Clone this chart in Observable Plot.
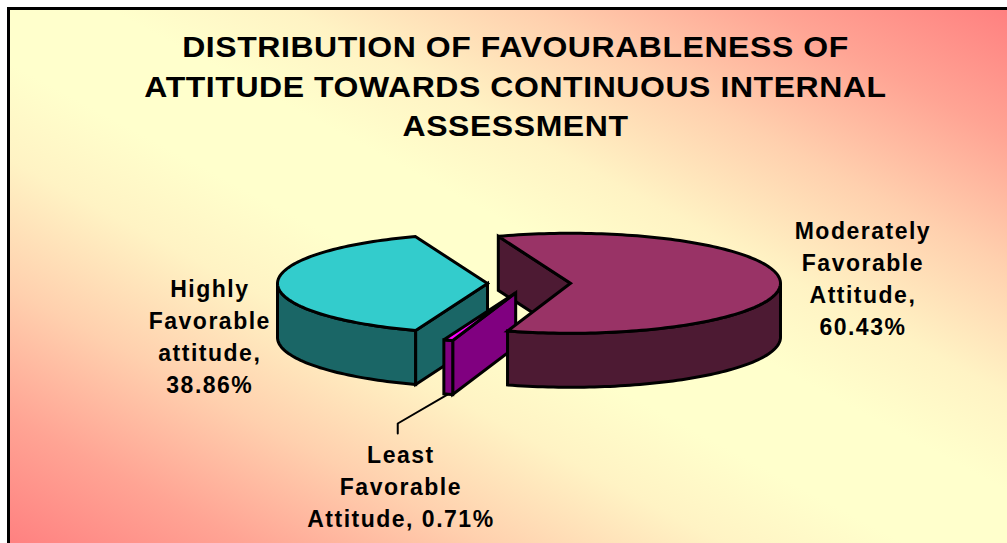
<!DOCTYPE html>
<html>
<head>
<meta charset="utf-8">
<script src="https://cdn.jsdelivr.net/npm/d3@7"></script>
<script src="https://cdn.jsdelivr.net/npm/@observablehq/plot@0.6"></script>
<style>
html,body{margin:0;padding:0;background:#fff;}
#page{position:relative;width:1007px;height:543px;overflow:hidden;font-family:"Liberation Sans",Arial,sans-serif;}
#panel{position:absolute;left:7px;top:7px;right:-3px;bottom:-3px;border-left:3px solid #000;border-top:3px solid #000;
background:linear-gradient(to top right,#ff8080 0%,#ffa494 12%,#ffd0ae 24%,#fff3c4 36%,#ffffcc 45%,#ffffcc 55%,#fff3c4 64%,#ffd0ae 76%,#ffa494 88%,#ff8080 100%);}
#title{position:absolute;left:0;top:27px;width:1031px;text-align:center;font-weight:700;font-size:30px;line-height:39.5px;color:#000;letter-spacing:.55px;transform:scaleX(1.065);transform-origin:center;}
#chart{position:absolute;left:0;top:150px;}
</style>
</head>
<body>
<div id="page">
<div id="panel"></div>
<div id="title">DISTRIBUTION OF FAVOURABLENESS OF<br>ATTITUDE TOWARDS CONTINUOUS INTERNAL<br>ASSESSMENT</div>
<div id="chart"></div>
</div>
<script>
const categories = ["Highly Favorable attitude", "Moderately Favorable Attitude", "Least Favorable Attitude"];
const percents = [38.86, 60.43, 0.71];
const labelTexts = ["Highly\nFavorable\nattitude,\n38.86%", "Moderately\nFavorable\nAttitude,\n60.43%", "Least\nFavorable\nAttitude, 0.71%"];
const labelX = [-1.52, 1.59, -0.61];
const labelY = [1.02, -0.14, 4.02];
const topColors = ["#33cccc", "#993366", "#ff00ff"];
const sideColors = ["#1a6666", "#4d1a33", "#800080"];
const firstAngle = 200;   // degrees clockwise from the back of the pie
const explode = 0.1976;   // in pie radii
const depth = 1.08;       // in vertical pie radii

const pie = d3.pie().value(d => d).sort(null)
  .startAngle(firstAngle * Math.PI / 180)
  .endAngle((firstAngle + 360) * Math.PI / 180)(percents);

const slices = pie.map((s, i) => {
  const mid = (s.startAngle + s.endAngle) / 2;
  return {i, a0: s.startAngle, a1: s.endAngle,
    cx: explode * Math.sin(mid), cy: -explode * Math.cos(mid)};
});
const rim = (s, a, d = 0) => ({x: s.cx + Math.sin(a), y: s.cy - Math.cos(a) + d});
const apex = (s, d = 0) => ({x: s.cx, y: s.cy + d});
const arc = (s, a0, a1, d = 0) => {
  const n = Math.max(2, Math.ceil(Math.abs(a1 - a0) * 40));
  return d3.range(n + 1).map(k => rim(s, a0 + (a1 - a0) * k / n, d));
};
const topFace = s => [apex(s), ...arc(s, s.a0, s.a1)];
const wall = (s, a0, a1) => [...arc(s, a0, a1), ...arc(s, a1, a0, depth)];
const radial = (s, a) => [apex(s), rim(s, a), rim(s, a, depth), apex(s, depth)];
const tau = 2 * Math.PI;
const [cyan, maroon, sliver] = slices;

// painter's order, back to front: only the walls facing the viewer
const faces = [
  [radial(maroon, maroon.a0), sideColors[1]],
  [wall(cyan, cyan.a0, 1.5 * Math.PI), sideColors[0]],
  [radial(cyan, cyan.a0), sideColors[0]],
  [topFace(cyan), topColors[0]],
  [radial(sliver, sliver.a0), sideColors[2]],
  [wall(sliver, sliver.a0, sliver.a1), sideColors[2]],
  [topFace(sliver), topColors[2]],
  [wall(maroon, tau + Math.PI / 2, maroon.a1), sideColors[1]],
  [topFace(maroon), topColors[1]]
];

const leaderStart = rim(sliver, (sliver.a0 + sliver.a1) / 2, depth);
const leader = [leaderStart, {x: -0.625, y: 2.8}, {x: -0.625, y: 3.0}];

const labels = labelTexts.map((text, i) => ({text, x: labelX[i], y: labelY[i]}));

const chart = Plot.plot({
  width: 1007, height: 393,
  marginTop: 0, marginRight: 0, marginBottom: 0, marginLeft: 0,
  x: {domain: [-1, 1], range: [318.5, 738.5], axis: null},
  y: {domain: [-1, 1], range: [83, 183], axis: null},
  style: {background: "transparent", fontFamily: "'Liberation Sans',Arial,sans-serif", overflow: "visible", letterSpacing: "1.5px"},
  marks: [
    ...faces.map(([points, fill]) => Plot.line(points, {
      x: "x", y: "y", fill, stroke: "#000", strokeWidth: 3,
      curve: "linear-closed", strokeLinejoin: "miter", strokeMiterlimit: 3
    })),
    Plot.line(leader, {x: "x", y: "y", stroke: "#000", strokeWidth: 2, curve: "linear"}),
    Plot.text(labels, {
      x: "x", y: "y", text: "text", lineHeight: 1.39, fontSize: 23, fontWeight: 700,
      fill: "#000", textAnchor: "middle"
    })
  ]
});
document.getElementById("chart").appendChild(chart);
</script>
</body>
</html>
